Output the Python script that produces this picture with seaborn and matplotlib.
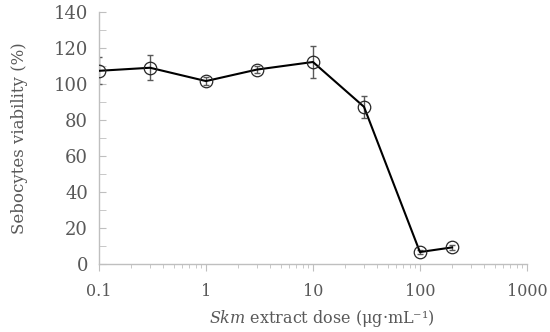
import numpy as np
import pandas as pd
import matplotlib
matplotlib.use("Agg")
import matplotlib.pyplot as plt
import seaborn as sns

# values
dose = [0.1, 0.3, 1, 3, 10, 30, 100, 200]
viability = [107.3, 109.0, 101.6, 108.0, 112.2, 87.3, 6.6, 9.2]
sd = [7.5, 7.0, 2.0, 2.0, 9.0, 6.0, 1.0, 1.5]

df = pd.DataFrame({"dose": dose, "viability": viability, "sd": sd})

sns.set_style("white")
plt.rcParams["font.family"] = ["DejaVu Serif"]
plt.rcParams["mathtext.fontset"] = "custom"
plt.rcParams["mathtext.it"] = "DejaVu Serif:italic"
plt.rcParams["mathtext.rm"] = "DejaVu Serif"

grey_text = "#595959"
grey_axis = "#bfbfbf"

fig = plt.figure(figsize=(5.5, 3.32), dpi=100)
ax = fig.add_axes([0.18, 0.205, 0.778, 0.759])

ax.errorbar(df["dose"], df["viability"], yerr=df["sd"], fmt="none",
            ecolor="#595959", elinewidth=1.0, capsize=2.5, capthick=1.0, zorder=2)
sns.lineplot(data=df, x="dose", y="viability", ax=ax, color="black",
             linewidth=1.5, marker="o", markersize=9, markerfacecolor="none",
             markeredgecolor="#262626", markeredgewidth=0.9, zorder=3)

ax.set_xscale("log")
ax.set_xlim(0.1, 1000)
ax.set_ylim(0, 140)
ax.set_yticks(np.arange(0, 141, 20))
ax.set_yticks(np.arange(10, 140, 20), minor=True)
ax.set_xticks([0.1, 1, 10, 100, 1000])
ax.set_xticklabels(["0.1", "1", "10", "100", "1000"])

for s in ["top", "right"]:
    ax.spines[s].set_visible(False)
for s in ["left", "bottom"]:
    ax.spines[s].set_color(grey_axis)
    ax.spines[s].set_linewidth(1.0)

ax.tick_params(axis="y", which="both", direction="in", length=5, color=grey_axis,
               labelcolor=grey_text, labelsize=13, pad=8, left=True)
ax.tick_params(axis="x", which="major", direction="out", length=5, color=grey_axis,
               labelcolor=grey_text, labelsize=11.5, pad=9, bottom=True)
ax.tick_params(axis="x", which="minor", direction="out", length=3, color=grey_axis,
               bottom=True)

ax.set_xlabel(r"$\mathit{Skm}$ extract dose (μg·mL⁻¹)", color=grey_text,
              fontsize=11.5)
ax.xaxis.set_label_coords(0.52, -0.175)
ax.set_ylabel("Sebocytes viability (%)", color=grey_text, fontsize=12, labelpad=18)

fig.savefig("out.png", dpi=100)
